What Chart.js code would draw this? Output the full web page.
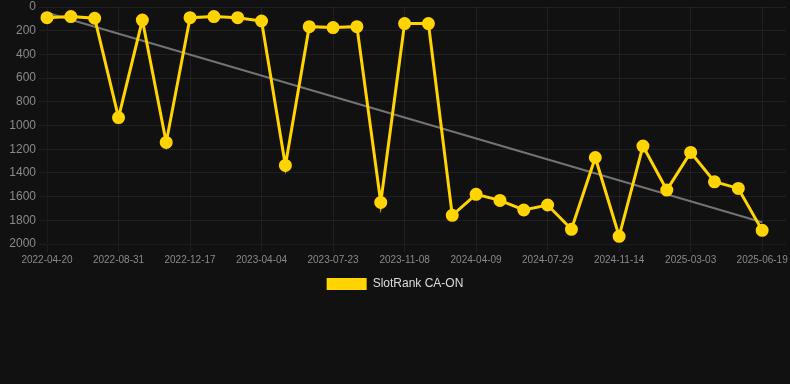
<!DOCTYPE html>
<html>
<head>
<meta charset="utf-8">
<script src="https://cdn.jsdelivr.net/npm/chart.js@4/dist/chart.umd.min.js"></script>
<style>
  html, body { margin: 0; padding: 0; background: #111111; }
  #wrap { width: 790px; height: 300px; position: relative; }
</style>
</head>
<body>
<div id="wrap"><canvas id="chart"></canvas></div>
<script>
// dates (only every third one shows on the axis)
const dates = [
  '2022-04-20', '2022-06-03', '2022-07-17', '2022-08-31', '2022-10-06', '2022-11-11',
  '2022-12-17', '2023-01-23', '2023-02-27', '2023-04-04', '2023-05-11', '2023-06-16',
  '2023-07-23', '2023-08-28', '2023-10-03', '2023-11-08', '2023-12-29', '2024-02-18',
  '2024-04-09', '2024-05-16', '2024-06-22', '2024-07-29', '2024-09-03', '2024-10-09',
  '2024-11-14', '2024-12-20', '2025-01-25', '2025-03-03', '2025-04-07', '2025-05-13',
  '2025-06-19', '2025-07-25'
];

// rank per date (lower = better)
const rankCAON = [
  90, 81, 95, 933, 110, 1143, 90, 81, 90, 118, 1337, 166, 174, 166, 1649, 140,
  140, 1758, 1581, 1632, 1713, 1671, 1876, 1270, 1935, 1174, 1545, 1227, 1475, 1531,
  1885, null
];

// trend line: start and end values only
const trend = [48].concat(new Array(29).fill(null), [1817, null]);

const yTicks = { min: 0, max: 2000, step: 200 };

const yellow = '#ffd400';
const gridColor = 'rgba(255,255,255,0.06)';

new Chart(document.getElementById('chart').getContext('2d'), {
  type: 'line',
  data: {
    labels: dates,
    datasets: [
      {
        label: 'SlotRank CA-ON',
        data: rankCAON,
        borderColor: yellow,
        backgroundColor: yellow,
        borderWidth: 3,
        pointRadius: 5,
        pointBackgroundColor: yellow,
        pointBorderColor: yellow,
        tension: 0,
      },
      {
        label: 'trend',
        data: trend,
        borderColor: 'rgba(140,140,140,0.8)',
        borderWidth: 2,
        pointRadius: 0,
        spanGaps: true,
        tension: 0,
      },
    ],
  },
  options: {
    responsive: true,
    maintainAspectRatio: false,
    animation: false,
    layout: { autoPadding: false },
    scales: {
      x: {
        grid: { color: gridColor },
        ticks: { color: '#8a8a8a', font: { size: 10 }, maxRotation: 0, padding: 2 },
        afterFit: (scale) => { scale.paddingRight = 4; },
      },
      y: {
        reverse: true,
        min: yTicks.min,
        max: yTicks.max,
        grid: { color: gridColor },
        ticks: {
          stepSize: yTicks.step,
          color: '#8a8a8a',
          font: { size: 12 },
          callback: (v) => String(v),
        },
        afterFit: (scale) => {
          scale.width = 47;
          scale.paddingTop = 7;
        },
      },
    },
    plugins: {
      legend: {
        position: 'bottom',
        labels: {
          color: '#dddddd',
          font: { size: 12 },
          // plain filled box, no outline
          generateLabels: (chart) =>
            Chart.defaults.plugins.legend.labels.generateLabels(chart)
              .map((l) => ({ ...l, lineWidth: 0 })),
          filter: (item) => item.text !== 'trend',
        },
      },
      tooltip: { enabled: false },
    },
  },
});
</script>
</body>
</html>
